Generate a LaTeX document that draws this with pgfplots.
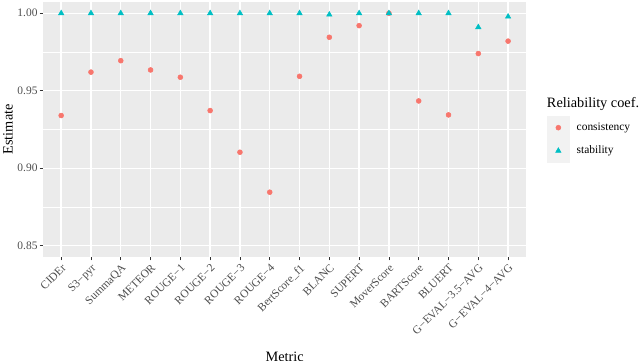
\documentclass[border=0pt]{standalone}
\usepackage{fontspec}
\setmainfont{Liberation Serif}
\usepackage{pgfplots}
\pgfplotsset{compat=1.18}
\usetikzlibrary{calc}
\definecolor{ggred}{HTML}{F8766D}
\definecolor{ggcyan}{HTML}{00BFC4}
\definecolor{panelbg}{HTML}{EBEBEB}
\definecolor{keybg}{HTML}{F2F2F2}
\definecolor{grey30}{HTML}{4D4D4D}
\definecolor{grey20}{HTML}{333333}

\begin{document}
\begin{tikzpicture}
\begin{axis}[
  name=ax,
  scale only axis, width=371.2pt, height=195.9pt,
  xmin=-0.6, xmax=15.6, ymin=0.8429, ymax=1.0073,
  clip=false,
  axis background/.style={fill=panelbg},
  axis line style={draw=none},
  xtick pos=left, ytick pos=left,
  xtick={0,...,15},
  xticklabels={CIDEr, S3−pyr, SummaQA, METEOR, ROUGE−1, ROUGE−2, ROUGE−3, ROUGE−4,
    BertScore\_f1, BLANC, SUPERT, MoverScore, BARTScore, BLUERT, G−EVAL−3.5−AVG, G−EVAL−4−AVG},
  ytick={0.85,0.90,0.95,1.00},
  minor ytick={0.875,0.925,0.975},
  /pgf/number format/fixed, /pgf/number format/fixed zerofill,
  /pgf/number format/precision=2, /pgf/number format/assume math mode=true,
  xmajorgrids, ymajorgrids, yminorgrids,
  major grid style={white, line width=1.07pt},
  minor grid style={white, line width=0.53pt},
  tick align=outside,
  major tick length=2.75pt, minor tick length=0pt,
  tick style={grey20, line width=0.55pt},
  tick label style={font=\fontsize{8.8}{10}\selectfont, text=grey30},
  xticklabel style={rotate=45, anchor=north east, inner sep=1.5pt},
  yticklabel style={inner sep=1.5pt},
  xlabel={Metric}, ylabel={Estimate},
  label style={font=\fontsize{11}{13}\selectfont},
  xlabel style={at={(axis description cs:0.5,-0.41)}, anchor=base},
  ylabel style={at={(axis description cs:-0.073,0.5)}, anchor=center},
  legend style={at={(axis description cs:1.043,0.552)}, anchor=north west,
    draw=none, fill=none, inner sep=0pt, row sep=0.35pt,
    font=\fontsize{8.8}{10}\selectfont,
    nodes={inner sep=0pt, anchor=west},
    /tikz/every odd column/.append style={column sep=5.4pt}},
  legend cell align=left,
  legend image code/.code={
    \fill[keybg] (0cm,-0.3cm) rectangle (0.6cm,0.3cm);
    \draw[#1] plot coordinates {(0.3cm,0cm)};},
]
\node[anchor=west, inner sep=0pt, font=\fontsize{11}{13}\selectfont] at (axis description cs:1.043,0.60) {Reliability coef.};

\addplot[only marks, mark=*, mark size=1.9pt, color=ggred, mark options={draw=ggred, fill=ggred}] coordinates {
  (0,0.934) (1,0.962) (2,0.9694) (3,0.9634) (4,0.9587) (5,0.9372) (6,0.9103) (7,0.8845)
  (8,0.9593) (9,0.9845) (10,0.992) (11,1.000) (12,0.9434) (13,0.9344) (14,0.974) (15,0.982)
};
\addlegendentry{consistency}
\addplot[only marks, mark=triangle*, mark size=2.4pt, color=ggcyan, mark options={draw=ggcyan, fill=ggcyan}] coordinates {
  (0,1.000) (1,1.000) (2,1.000) (3,1.000) (4,1.000) (5,1.000) (6,1.000) (7,1.000)
  (8,1.000) (9,0.9991) (10,1.000) (11,1.000) (12,1.000) (13,1.000) (14,0.991) (15,0.9978)
};
\addlegendentry{stability}
\end{axis}
\pgfresetboundingbox
\path[use as bounding box] ($(ax.south west)+(-33.3pt,-80.2pt)$) rectangle ($(ax.south west)+(458.9pt,197.4pt)$);
\end{tikzpicture}
\end{document}
